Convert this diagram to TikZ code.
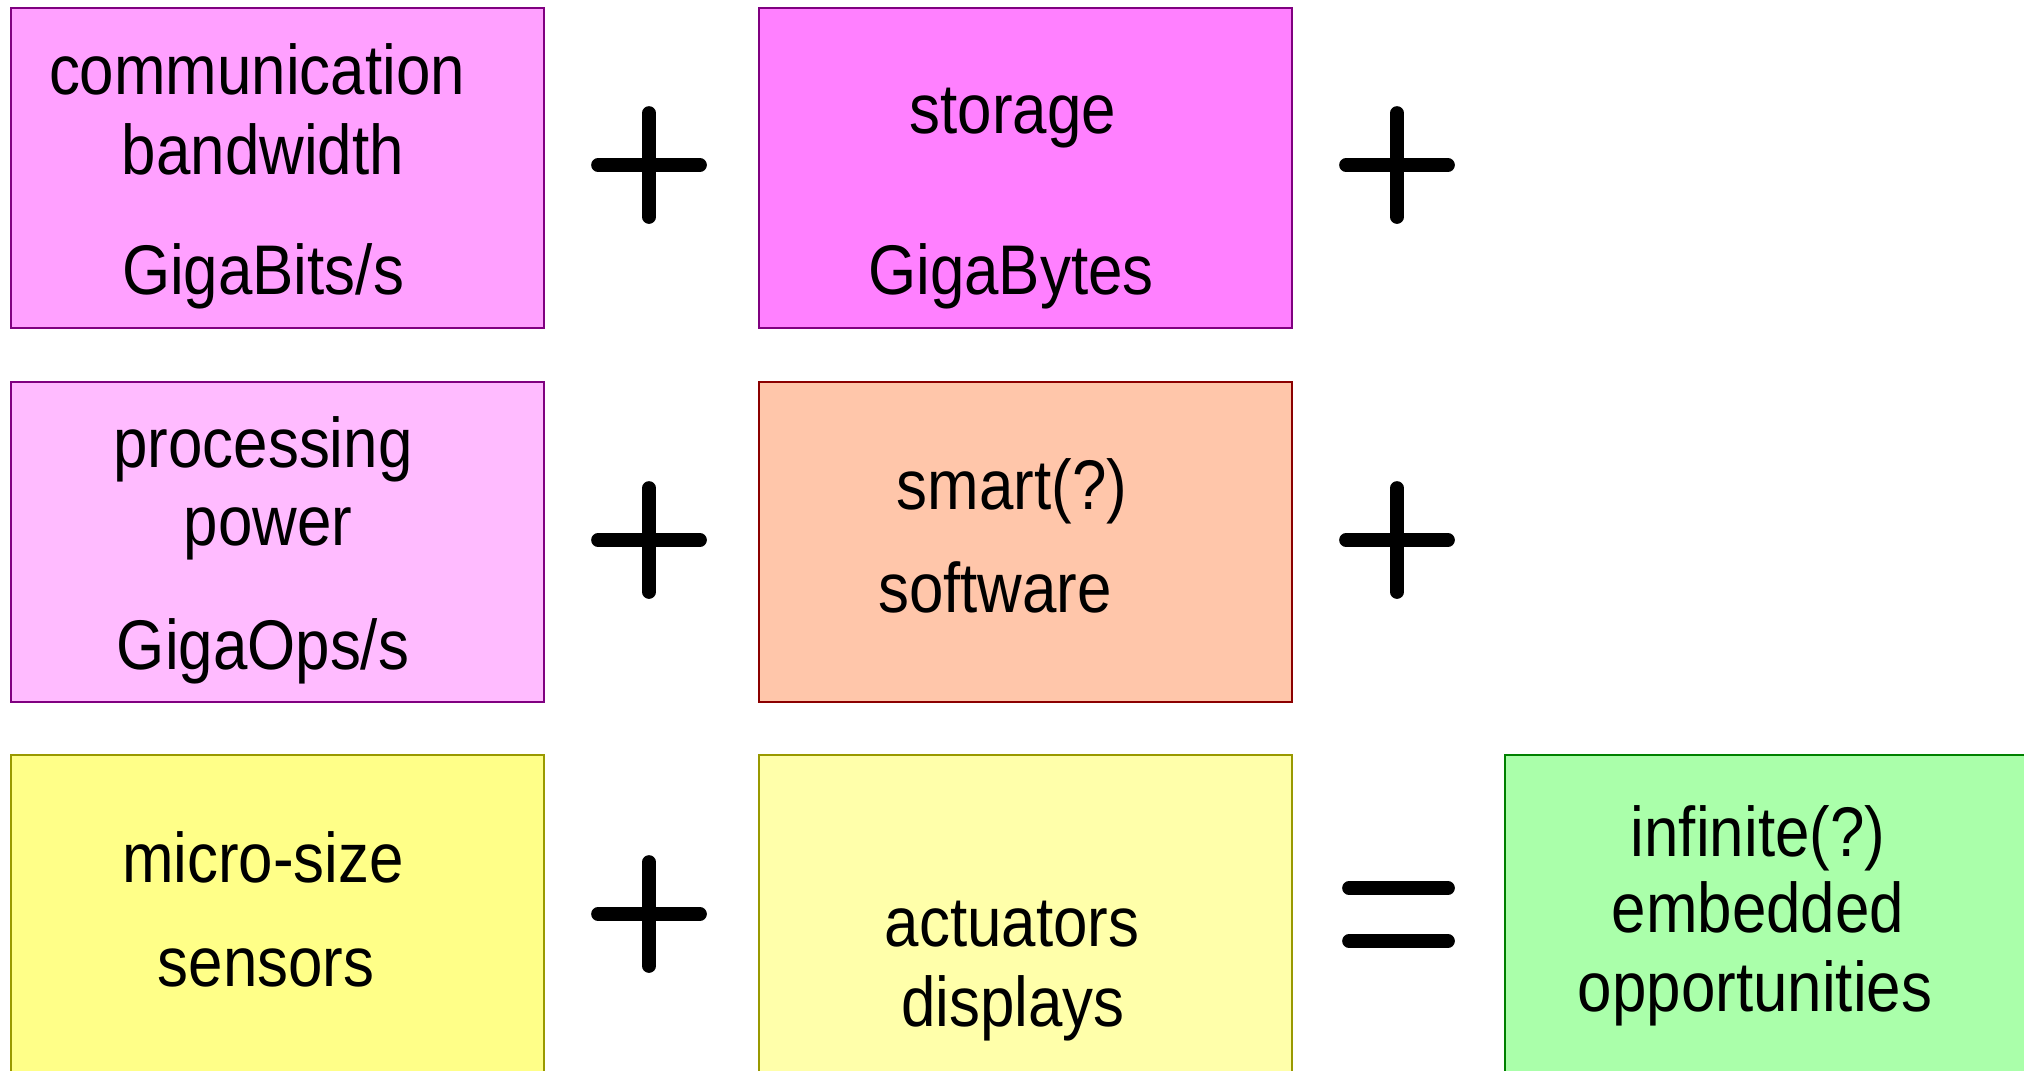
\documentclass[tikz,border=0pt]{standalone}
\usepackage{fontspec}
\setmainfont{Liberation Sans}[FakeStretch=0.88]
\usepackage{xcolor}
\definecolor{bwfill}{HTML}{FFA0FF}
\definecolor{stfill}{HTML}{FF80FF}
\definecolor{prfill}{HTML}{FFBBFF}
\definecolor{swfill}{HTML}{FFC6AA}
\definecolor{snfill}{HTML}{FFFF88}
\definecolor{acfill}{HTML}{FFFFAA}
\definecolor{opfill}{HTML}{AAFFAA}
\definecolor{purpleedge}{HTML}{800080}
\definecolor{rededge}{HTML}{8B0000}
\definecolor{oliveedge}{HTML}{999900}
\definecolor{greenedge}{HTML}{008000}

\begin{document}
\begin{tikzpicture}[box/.style={draw,line width=0.6pt,inner sep=0pt,anchor=north west,
                      minimum width=5.33cm,minimum height=3.2cm},
                    txt/.style={anchor=base,inner sep=0pt,font=\fontsize{20}{24}\selectfont},
                    sym/.style={line width=3.9pt,line cap=round}]
\useasboundingbox (0,0) rectangle (20.24,-10.70);

% boxes
\node[box,fill=bwfill,draw=purpleedge] (bw) at (0.10,-0.07) {};
\node[box,fill=stfill,draw=purpleedge] (st) at (7.58,-0.07) {};
\node[box,fill=prfill,draw=purpleedge] (pr) at (0.10,-3.81) {};
\node[box,fill=swfill,draw=rededge] (sw) at (7.58,-3.81) {};
\node[box,fill=snfill,draw=oliveedge] (sn) at (0.10,-7.54) {};
\node[box,fill=acfill,draw=oliveedge] (ac) at (7.58,-7.54) {};
\node[box,fill=opfill,draw=greenedge] (op) at (15.04,-7.54) {};

% texts
\node[txt] (bw1) at (2.57,-0.94) {communication};
\node[txt] (bw2) at (2.63,-1.74) {bandwidth};
\node[txt] (bw3) at (2.63,-2.94) {GigaBits/s};
\node[txt] (st1) at (10.13,-1.33) {storage};
\node[txt] (st2) at (10.11,-2.94) {GigaBytes};
\node[txt] (pr1) at (2.63,-4.67) {processing};
\node[txt] (pr2) at (2.68,-5.45) {power};
\node[txt] (pr3) at (2.63,-6.69) {GigaOps/s};
\node[txt] (sw1) at (10.12,-5.09) {smart(?)};
\node[txt] (sw2) at (9.95,-6.12) {software};
\node[txt] (sn1) at (2.63,-8.82) {micro-size};
\node[txt] (sn2) at (2.66,-9.86) {sensors};
\node[txt] (ac1) at (10.12,-9.46) {actuators};
\node[txt] (ac2) at (10.13,-10.26) {displays};
\node[txt] (op1) at (17.58,-8.56) {infinite(?)};
\node[txt] (op2) at (17.58,-9.32) {embedded};
\node[txt] (op3) at (17.55,-10.11) {opportunities};

% plus and equals signs
\foreach \x/\y in {6.49/-1.65, 13.97/-1.65, 6.49/-5.40, 13.97/-5.40, 6.49/-9.14}
  \draw[sym] (\x-0.51,\y) -- (\x+0.51,\y) (\x,\y-0.52) -- (\x,\y+0.52);
\draw[sym] (13.49,-8.88) -- (14.48,-8.88)
           (13.49,-9.41) -- (14.48,-9.41);
\end{tikzpicture}
\end{document}
